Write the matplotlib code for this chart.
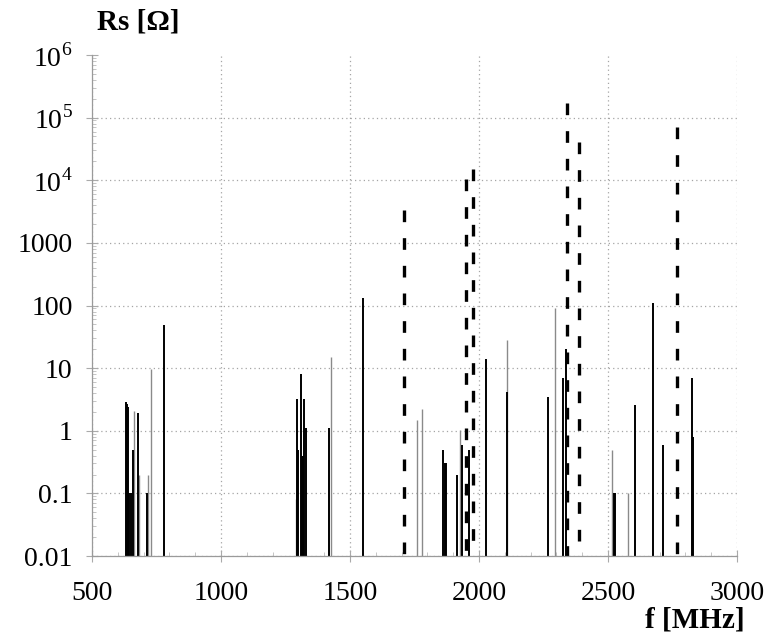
import matplotlib
matplotlib.use("Agg")
import matplotlib.pyplot as plt
from matplotlib.ticker import FixedLocator, FixedFormatter, MultipleLocator, LogLocator, NullFormatter

plt.rcParams["font.family"] = "Liberation Serif"
plt.rcParams["mathtext.fontset"] = "custom"
plt.rcParams["mathtext.rm"] = "Liberation Serif"

# dark solid stems
dark_f = [630, 635, 640, 645, 650, 660, 677, 712, 779,
          1293, 1297, 1310, 1314, 1318, 1323, 1328, 1417, 1549,
          1862, 1868, 1874, 1916, 1935, 1962, 2027, 2107,
          2269, 2327, 2337, 2522, 2527, 2605, 2676, 2712, 2824, 2830]
dark_v = [2.9, 2.7, 2.4, 0.1, 0.1, 0.5, 1.9, 0.1, 48,
          3.2, 0.5, 8.0, 0.4, 0.4, 3.2, 1.1, 1.1, 130,
          0.5, 0.3, 0.3, 0.2, 0.6, 0.5, 14, 4.1,
          3.4, 7, 20, 0.1, 0.1, 2.6, 110, 0.6, 6.9, 0.8]

# lighter solid stems
light_f = [664, 683, 718, 729, 1290, 1427, 1758, 1778, 1926, 2107, 2295, 2514, 2579]
light_v = [2.1, 0.2, 0.2, 9.6, 0.08, 15, 1.46, 2.2, 1.04, 28, 90, 0.5, 0.1]

# dashed stems
dash_f = [1709, 1950, 1976, 2340, 2389, 2766]
dash_v = [3400, 10500, 15000, 170000, 41000, 70000]

y_ticks = [0.01, 0.1, 1, 10, 100, 1000, 1e4, 1e5, 1e6]
y_labels = ["0.01", "0.1", "1", "10", "100", "1000", "$10^4$", "$10^5$", "$10^6$"]
x_ticks = [500, 1000, 1500, 2000, 2500, 3000]

fig = plt.figure(figsize=(7.74, 6.4), dpi=100)
ax = fig.add_axes([92 / 774, 1 - 556 / 640, 645 / 774, 501 / 640])

base = 0.01
ax.vlines(light_f, base, light_v, colors="#8a8a8a", linewidth=1.0)
ax.vlines(dark_f, base, dark_v, colors="black", linewidth=1.4)
# drawn top-down so that the dash pattern starts at the peak
ax.vlines(dash_f, dash_v, base, colors="black", linewidth=2.4,
          linestyles=(0, (3.5, 4.8)))

ax.set_yscale("log")
ax.set_xlim(500, 3000)
ax.set_ylim(0.01, 1e6)

ax.yaxis.set_major_locator(FixedLocator(y_ticks))
ax.yaxis.set_major_formatter(FixedFormatter(y_labels))
ax.yaxis.set_minor_locator(LogLocator(base=10, subs=range(2, 10), numticks=20))
ax.yaxis.set_minor_formatter(NullFormatter())
ax.xaxis.set_major_locator(FixedLocator(x_ticks))
ax.xaxis.set_minor_locator(MultipleLocator(100))

ax.grid(True, which="major", linestyle=(0, (1, 2.5)), color="#a5a5a5", linewidth=0.9)
ax.set_axisbelow(True)

for s in ["top", "right"]:
    ax.spines[s].set_visible(False)
for s in ["left", "bottom"]:
    ax.spines[s].set_color("#9a9a9a")
    ax.spines[s].set_linewidth(0.9)

ax.tick_params(which="major", direction="inout", length=8, color="#aaaaaa",
               labelsize=20, width=0.8)
ax.tick_params(which="minor", direction="in", length=3, color="#bbbbbb", width=0.6)
ax.tick_params(axis="x", pad=14)
ax.tick_params(axis="y", pad=10)

fig.text(97 / 774, 1 - 22 / 640, "Rs [Ω]", fontsize=21, fontweight="bold",
         ha="left", va="center")
fig.text(745 / 774, 1 - 620 / 640, "f [MHz]", fontsize=21, fontweight="bold",
         ha="right", va="center")

fig.canvas.draw()
gl = ax.yaxis.get_gridlines()
gl[-1].set_visible(False)

fig.savefig("out.png", dpi=100)
